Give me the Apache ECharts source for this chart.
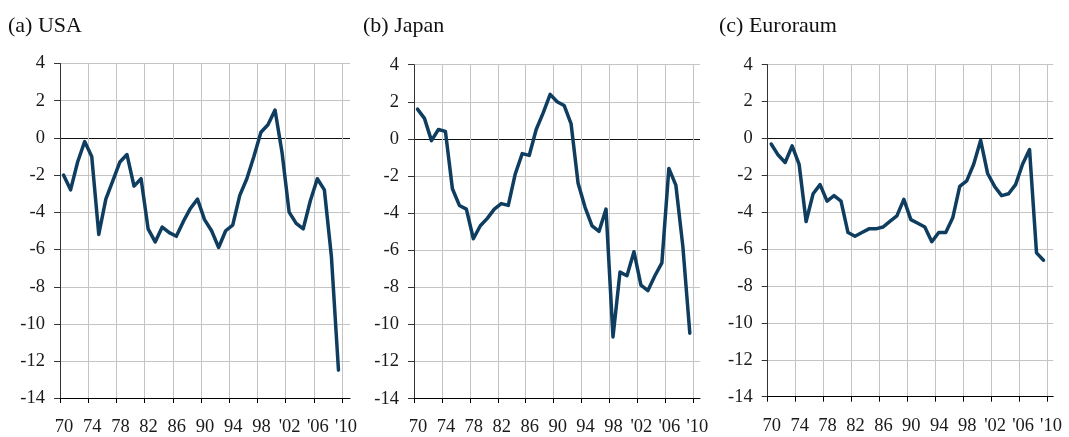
<!DOCTYPE html>
<html>
<head>
<meta charset="utf-8">
<script src="https://cdn.jsdelivr.net/npm/echarts@6/dist/echarts.min.js"></script>
<style>
html,body{margin:0;padding:0;background:#fff;}
#chart{width:1069px;height:437px;}
</style>
</head>
<body>
<div id="chart"></div>
<script>
// ---- data ----
var years = [];
for (var y = 1970; y <= 2009; y++) years.push(y);
var titles = ['(a) USA', '(b) Japan', '(c) Euroraum'];
var yTicks = [-14, -12, -10, -8, -6, -4, -2, 0, 2, 4];
var usa = [-2.0,-2.8,-1.3,-0.2,-1.0,-5.2,-3.3,-2.3,-1.3,-0.9,-2.6,-2.2,-4.9,-5.6,-4.8,-5.1,-5.3,-4.5,-3.8,-3.3,-4.4,-5.0,-5.9,-5.0,-4.7,-3.1,-2.2,-1.0,0.3,0.7,1.5,-0.8,-4.0,-4.6,-4.9,-3.4,-2.2,-2.8,-6.4,-12.5];
var japan = [1.6,1.1,-0.1,0.5,0.4,-2.7,-3.6,-3.8,-5.4,-4.7,-4.3,-3.8,-3.5,-3.6,-1.9,-0.8,-0.9,0.5,1.4,2.4,2.0,1.8,0.8,-2.4,-3.7,-4.7,-5.0,-3.8,-10.7,-7.2,-7.4,-6.1,-7.9,-8.2,-7.4,-6.7,-1.6,-2.5,-5.8,-10.5];
var euro = [-0.3,-0.9,-1.3,-0.4,-1.4,-4.5,-3.0,-2.5,-3.4,-3.1,-3.4,-5.1,-5.3,-5.1,-4.9,-4.9,-4.8,-4.5,-4.2,-3.3,-4.4,-4.6,-4.8,-5.6,-5.1,-5.1,-4.3,-2.6,-2.3,-1.4,-0.1,-1.9,-2.6,-3.1,-3.0,-2.5,-1.4,-0.6,-6.2,-6.6];
var seriesData = [usa, japan, euro];

// ---- layout ----
var FONT = 'Liberation Serif';
var panels = [
  {left: 60,    frontW: 282,   backW: 290,   top: 63.5, height: 335, titleX: 3},
  {left: 414,   frontW: 279.3, backW: 286,   top: 64.7, height: 334, titleX: 358},
  {left: 767.7, frontW: 279.3, backW: 285.5, top: 64.7, height: 332, titleX: 714}
];

var grid = [], xAxis = [], yAxis = [], series = [], title = [];
var gridColor = '#c4c4c4';
var splitColors = yTicks.map(function (t) { return t === 0 ? '#111' : gridColor; });

function yearLabel(v) {
  var s = String(v).slice(2);
  return v >= 2000 ? "'" + s : s;
}

panels.forEach(function (p, i) {
  title.push({
    text: titles[i], left: p.titleX, top: 10,
    textStyle: {fontFamily: FONT, fontSize: 22, fontWeight: 'normal', color: '#111'}
  });
  var gb = grid.length;
  grid.push({left: p.left, top: p.top, width: p.backW, height: p.height, containLabel: false});
  grid.push({left: p.left, top: p.top, width: p.frontW, height: p.height, containLabel: false});

  xAxis.push({
    gridIndex: gb, type: 'value', min: 0, max: 1, show: true,
    axisLine: {show: true, onZero: false, lineStyle: {color: '#000', width: 1}},
    axisTick: {show: false}, axisLabel: {show: false}, splitLine: {show: false}
  });
  yAxis.push({
    gridIndex: gb, type: 'value', min: -14, max: 4, interval: 2,
    axisLine: {show: true, onZero: false, lineStyle: {color: '#333', width: 1}},
    axisTick: {show: true, inside: false, length: 6, lineStyle: {color: '#333'}},
    axisLabel: {fontFamily: FONT, fontSize: 18.5, color: '#1a1a1a', margin: 15},
    splitLine: {show: true, lineStyle: {color: splitColors, width: 1}}
  });
  xAxis.push({
    gridIndex: gb + 1, type: 'value', min: 1970, max: 2010, interval: 4,
    axisLine: {show: false, onZero: false},
    axisTick: {show: true, length: 5, lineStyle: {color: '#000'}},
    axisLabel: {fontFamily: FONT, fontSize: 18.5, color: '#1a1a1a', margin: 20,
      padding: [0, 0, 0, 8], formatter: yearLabel},
    splitLine: {show: true, showMinLine: false, lineStyle: {color: gridColor, width: 1}}
  });
  yAxis.push({
    gridIndex: gb + 1, type: 'value', min: -14, max: 4, interval: 2, show: false,
    axisLine: {onZero: false}, splitLine: {show: false}
  });
  series.push({
    type: 'line', xAxisIndex: gb + 1, yAxisIndex: gb + 1,
    data: years.map(function (yr, k) { return [yr + 0.5, seriesData[i][k]]; }),
    showSymbol: false, symbol: 'none', smooth: false, z: 10,
    lineStyle: {color: '#0e3d60', width: 3.5, join: 'round', cap: 'round'},
    animation: false
  });
});

var chart = echarts.init(document.getElementById('chart'), null, {renderer: 'canvas'});
chart.setOption({
  animation: false,
  backgroundColor: '#fff',
  title: title, grid: grid, xAxis: xAxis, yAxis: yAxis, series: series
});
</script>
</body>
</html>
